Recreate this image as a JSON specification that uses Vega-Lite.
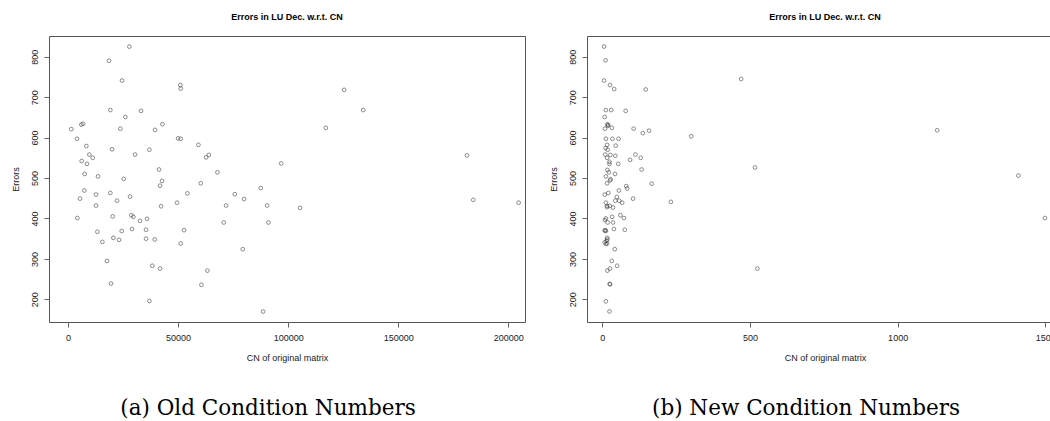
{
  "$schema": "https://vega.github.io/schema/vega-lite/v6.json",
  "padding": {"left": 10, "top": 12, "right": 0, "bottom": 0},
  "background": "white",
  "spacing": 22,
  "config": {
    "view": {"stroke": "#555", "strokeWidth": 1},
    "axis": {"grid": false, "domain": false, "tickColor": "#666", "tickSize": 5, "labelFont": "Liberation Sans", "labelFontSize": 9, "labelColor": "#222", "titleFont": "Liberation Sans", "titleFontSize": 9, "titleFontWeight": "normal", "titleColor": "#222"}
  },
  "datasets": {
    "old": [
      {"cn":1515,"err":621},{"cn":4091,"err":597},{"cn":6060,"err":632},{"cn":6818,"err":634},{"cn":8333,"err":579},{"cn":9697,"err":558},{"cn":11212,"err":550},{"cn":6212,"err":542},{"cn":8636,"err":535},{"cn":7576,"err":510},{"cn":13636,"err":504},{"cn":7424,"err":469},{"cn":5454,"err":449},{"cn":12727,"err":459},{"cn":4242,"err":401},{"cn":12727,"err":432},{"cn":13333,"err":367},{"cn":15606,"err":342},{"cn":17727,"err":295},{"cn":19545,"err":239},{"cn":18636,"err":790},{"cn":19242,"err":668},{"cn":20000,"err":571},{"cn":19242,"err":463},{"cn":20303,"err":405},{"cn":20606,"err":352},{"cn":23182,"err":347},{"cn":24394,"err":369},{"cn":22273,"err":444},{"cn":25303,"err":498},{"cn":23788,"err":622},{"cn":24545,"err":741},{"cn":26060,"err":651},{"cn":27879,"err":825},{"cn":28182,"err":454},{"cn":28788,"err":408},{"cn":29697,"err":404},{"cn":29091,"err":374},{"cn":30455,"err":558},{"cn":32727,"err":394},{"cn":33182,"err":666},{"cn":35909,"err":399},{"cn":35454,"err":372},{"cn":35454,"err":350},{"cn":36970,"err":570},{"cn":36970,"err":196},{"cn":38333,"err":283},{"cn":39394,"err":348},{"cn":39545,"err":619},{"cn":41364,"err":521},{"cn":41818,"err":481},{"cn":41818,"err":276},{"cn":42273,"err":430},{"cn":42727,"err":493},{"cn":42879,"err":633},{"cn":49545,"err":439},{"cn":50000,"err":598},{"cn":51212,"err":597},{"cn":51060,"err":730},{"cn":51212,"err":721},{"cn":51212,"err":338},{"cn":52727,"err":371},{"cn":54242,"err":462},{"cn":59242,"err":582},{"cn":60303,"err":487},{"cn":60606,"err":236},{"cn":62727,"err":551},{"cn":63939,"err":557},{"cn":63333,"err":271},{"cn":67879,"err":514},{"cn":70757,"err":390},{"cn":71818,"err":432},{"cn":75757,"err":460},{"cn":79394,"err":324},{"cn":80000,"err":448},{"cn":87575,"err":475},{"cn":88636,"err":170},{"cn":90454,"err":432},{"cn":91060,"err":390},{"cn":96818,"err":536},{"cn":105454,"err":426},{"cn":117121,"err":624},{"cn":125454,"err":718},{"cn":134091,"err":668},{"cn":181212,"err":556},{"cn":184091,"err":446},{"cn":204697,"err":439}
    ],
    "new": [
      {"cn":6,"err":825},{"cn":11,"err":791},{"cn":6,"err":741},{"cn":26,"err":730},{"cn":40,"err":720},{"cn":147,"err":719},{"cn":12,"err":668},{"cn":30,"err":668},{"cn":79,"err":666},{"cn":8,"err":651},{"cn":17,"err":633},{"cn":20,"err":631},{"cn":18,"err":629},{"cn":9,"err":622},{"cn":32,"err":624},{"cn":106,"err":622},{"cn":158,"err":617},{"cn":137,"err":611},{"cn":301,"err":603},{"cn":12,"err":597},{"cn":34,"err":597},{"cn":55,"err":597},{"cn":16,"err":582},{"cn":45,"err":580},{"cn":11,"err":574},{"cn":18,"err":570},{"cn":10,"err":558},{"cn":27,"err":557},{"cn":44,"err":555},{"cn":112,"err":558},{"cn":130,"err":550},{"cn":16,"err":550},{"cn":94,"err":545},{"cn":24,"err":540},{"cn":24,"err":535},{"cn":54,"err":535},{"cn":133,"err":521},{"cn":17,"err":520},{"cn":22,"err":514},{"cn":43,"err":510},{"cn":12,"err":504},{"cn":28,"err":497},{"cn":26,"err":494},{"cn":16,"err":487},{"cn":167,"err":486},{"cn":8,"err":459},{"cn":20,"err":463},{"cn":56,"err":469},{"cn":81,"err":480},{"cn":84,"err":474},{"cn":12,"err":439},{"cn":49,"err":453},{"cn":44,"err":444},{"cn":57,"err":444},{"cn":67,"err":439},{"cn":104,"err":449},{"cn":232,"err":441},{"cn":16,"err":431},{"cn":25,"err":431},{"cn":36,"err":427},{"cn":16,"err":428},{"cn":61,"err":408},{"cn":73,"err":401},{"cn":33,"err":404},{"cn":12,"err":400},{"cn":9,"err":396},{"cn":18,"err":390},{"cn":36,"err":390},{"cn":39,"err":374},{"cn":76,"err":372},{"cn":8,"err":370},{"cn":10,"err":371},{"cn":12,"err":369},{"cn":16,"err":352},{"cn":17,"err":348},{"cn":14,"err":345},{"cn":8,"err":341},{"cn":12,"err":337},{"cn":16,"err":338},{"cn":42,"err":324},{"cn":32,"err":295},{"cn":26,"err":276},{"cn":17,"err":271},{"cn":50,"err":283},{"cn":25,"err":238},{"cn":26,"err":237},{"cn":12,"err":195},{"cn":24,"err":170},{"cn":470,"err":745},{"cn":517,"err":526},{"cn":525,"err":276},{"cn":1134,"err":618},{"cn":1409,"err":506},{"cn":1499,"err":401}
    ]
  },
  "hconcat": [
    {
      "title": {"text": "(a) Old Condition Numbers", "orient": "bottom", "frame": "bounds", "anchor": "middle", "font": "DejaVu Serif", "fontSize": 21.5, "fontWeight": "normal", "color": "#000", "baseline": "alphabetic", "offset": 52},
      "vconcat": [
        {
          "title": {"text": "Errors in LU Dec. w.r.t. CN", "anchor": "middle", "frame": "group", "font": "Liberation Sans", "fontSize": 9, "fontWeight": "bold", "color": "#000", "baseline": "alphabetic", "offset": 7},
          "width": 476,
          "height": 286,
          "data": {"name": "old"},
          "mark": {"type": "point", "shape": "circle", "filled": false, "size": 14, "stroke": "#333", "strokeWidth": 0.8},
          "encoding": {
            "x": {"field": "cn", "type": "quantitative", "scale": {"domain": [-8630, 207580], "nice": false, "zero": false},
                  "axis": {"values": [0, 50000, 100000, 150000, 200000], "format": "d", "title": "CN of original matrix", "labelPadding": 6, "minExtent": 20, "maxExtent": 20, "titlePadding": 11}},
            "y": {"field": "err", "type": "quantitative", "scale": {"domain": [143.9, 851.2], "nice": false, "zero": false},
                  "axis": {"values": [200, 300, 400, 500, 600, 700, 800], "title": "Errors", "labelAngle": -90, "labelAlign": "center", "labelBaseline": "bottom", "labelPadding": 5, "minExtent": 20, "maxExtent": 20, "titlePadding": 9}}
          }
        }
      ]
    },
    {
      "title": {"text": "(b) New Condition Numbers", "orient": "bottom", "frame": "bounds", "anchor": "middle", "font": "DejaVu Serif", "fontSize": 21.5, "fontWeight": "normal", "color": "#000", "baseline": "alphabetic", "offset": 52},
      "vconcat": [
        {
          "title": {"text": "Errors in LU Dec. w.r.t. CN", "anchor": "middle", "frame": "group", "font": "Liberation Sans", "fontSize": 9, "fontWeight": "bold", "color": "#000", "baseline": "alphabetic", "offset": 7},
          "width": 476,
          "height": 286,
          "data": {"name": "new"},
          "mark": {"type": "point", "shape": "circle", "filled": false, "size": 14, "stroke": "#333", "strokeWidth": 0.8},
          "encoding": {
            "x": {"field": "cn", "type": "quantitative", "scale": {"domain": [-52, 1560], "nice": false, "zero": false},
                  "axis": {"values": [0, 500, 1000, 1500], "format": "d", "title": "CN of original matrix", "labelPadding": 6, "minExtent": 20, "maxExtent": 20, "titlePadding": 11}},
            "y": {"field": "err", "type": "quantitative", "scale": {"domain": [143.9, 851.2], "nice": false, "zero": false},
                  "axis": {"values": [200, 300, 400, 500, 600, 700, 800], "title": "Errors", "labelAngle": -90, "labelAlign": "center", "labelBaseline": "bottom", "labelPadding": 5, "minExtent": 20, "maxExtent": 20, "titlePadding": 9}}
          }
        }
      ]
    }
  ]
}
